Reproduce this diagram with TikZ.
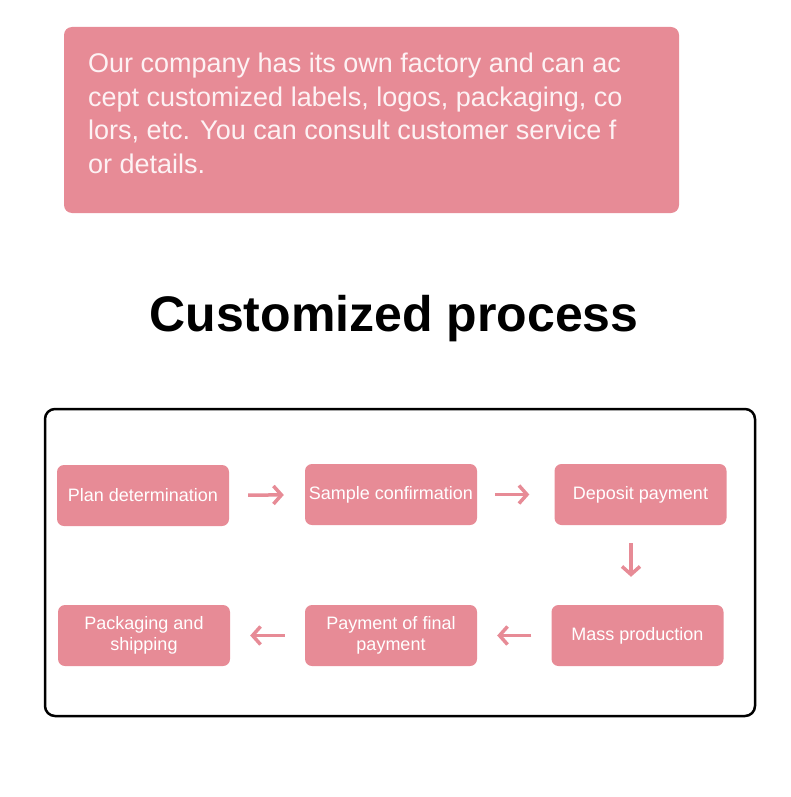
\documentclass[tikz,border=0pt]{standalone}
\usepackage{fontspec}
\setmainfont{Liberation Sans}
\usetikzlibrary{arrows.meta}
\definecolor{mypink}{RGB}{231,139,150}
\definecolor{mywhite}{RGB}{253,242,244}

\begin{document}
\begin{tikzpicture}[x=1pt,y=-1pt,
	procbox/.style={fill=mypink, rounded corners=7pt, minimum width=172pt, minimum height=61pt,
		inner sep=2pt, text=white, align=center, font=\fontsize{18}{21}\selectfont},
	flow/.style={draw=mypink, line width=3.5pt, -{Straight Barb[length=8pt,width=18pt]}}]

	\useasboundingbox (0,0) rectangle (790,797);

	% note at the top
	\fill[mypink, rounded corners=8pt] (64,27) rectangle (679,213);
	\node[anchor=base west, inner sep=0pt, align=left, text=mywhite,
		font=\fontsize{27}{33.5}\selectfont] (note) at (88,173)
		{Our company has its own factory and can ac\\
		 cept customized labels, logos, packaging, co\\
		 lors, etc. You can consult customer service f\\
		 or details.};

	\node[anchor=base, inner sep=0pt, font=\bfseries\fontsize{50}{58}\selectfont] (title) at (394,331)
		{Customized process};

	\draw[line width=2.5pt, rounded corners=10pt] (45,409) rectangle (755,716);

	\node[procbox] (plan) at (143,495.5) {Plan determination};
	\node[procbox] (sample) at (391,494.5) {Sample confirmation};
	\node[procbox] (deposit) at (640.5,494.5) {Deposit payment};
	\node[procbox] (mass) at (637.5,635.5) {Mass production};
	\node[procbox] (final) at (391,635.5) {Payment of final\\payment};
	\node[procbox] (pack) at (144,635.5) {Packaging and\\shipping};

	\draw[flow, shorten <=19pt, shorten >=21pt] (plan) -- (sample);
	\draw[flow, shorten <=18pt, shorten >=25pt] (sample) -- (deposit);
	\draw[flow, shorten <=18pt, shorten >=28pt] ([xshift=-9.5pt]deposit.south) -- ([xshift=-9.5pt]deposit.south |- mass.north);
	\draw[flow, shorten <=20pt, shorten >=20pt] (mass) -- (final);
	\draw[flow, shorten <=20pt, shorten >=20pt] (final) -- (pack);

\end{tikzpicture}
\end{document}
